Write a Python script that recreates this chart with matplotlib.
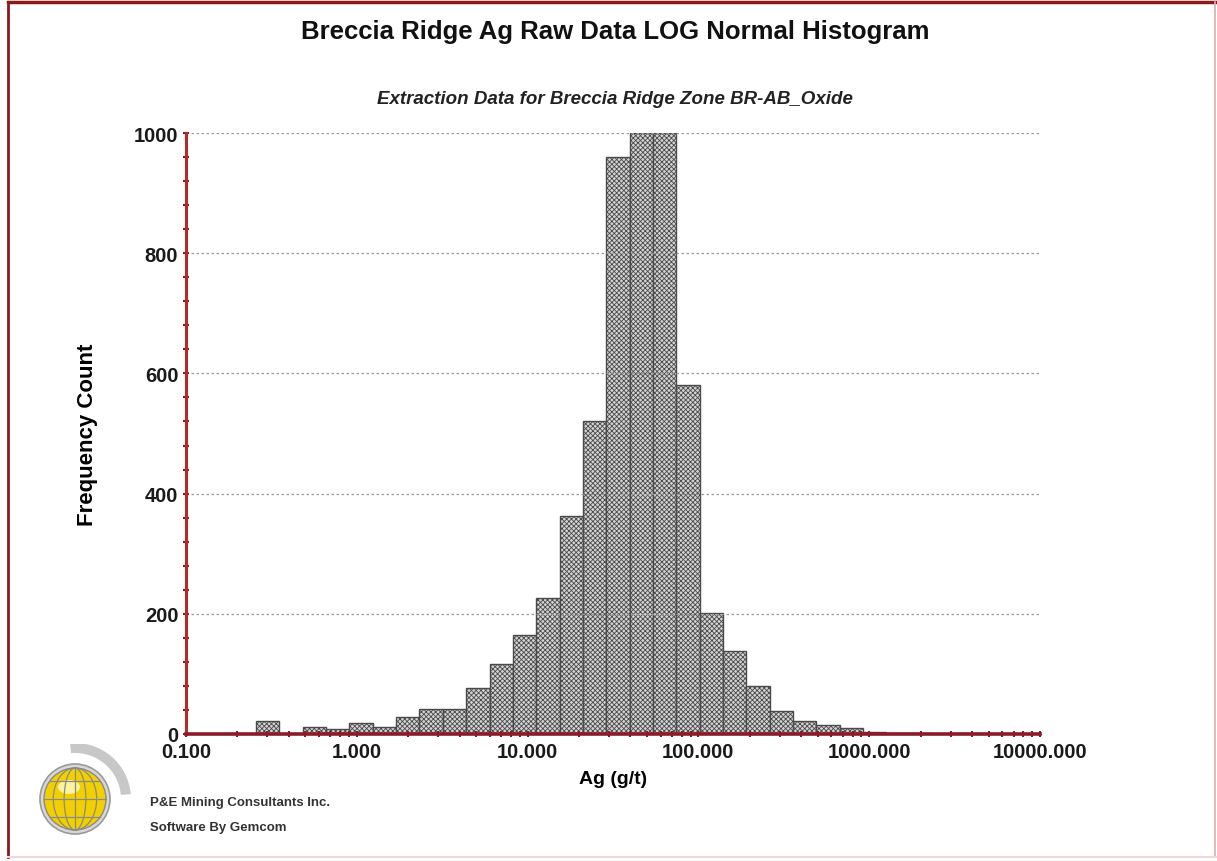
import numpy as np
import matplotlib
matplotlib.use("Agg")
import matplotlib.pyplot as plt
from matplotlib.patches import Circle, Wedge, Ellipse
from matplotlib.ticker import FixedLocator, NullFormatter, FuncFormatter

plt.rcParams['font.family'] = ['Liberation Sans', 'DejaVu Sans']
plt.rcParams['hatch.linewidth'] = 0.6

# ---- data ----
title = "Breccia Ridge Ag Raw Data LOG Normal Histogram"
subtitle = "Extraction Data for Breccia Ridge Zone BR-AB_Oxide"
x_label = "Ag (g/t)"
y_label = "Frequency Count"
log_start = -1.0          # first bin edge = 0.1 g/t
log_bin_width = 0.1367    # bin width in log10 units
counts = [0, 0, 0, 22, 0, 12, 8, 18, 11, 28, 42, 42, 77, 116, 164, 226, 363,
          521, 960, 1000, 1000, 581, 201, 138, 80, 39, 22, 15, 10, 3, 2, 1, 0, 2, 0]
x_ticks = [0.1, 1, 10, 100, 1000, 10000]
y_ticks = [0, 200, 400, 600, 800, 1000]
company = "P&E Mining Consultants Inc."
software = "Software By Gemcom"

W, H = 1217, 862
fig = plt.figure(figsize=(W / 100, H / 100), dpi=100)
fig.patch.set_facecolor('white')

# figure frame
fig.add_artist(plt.Line2D([8 / W, 1], [1 - 3 / H, 1 - 3 / H], color='#8b1a1a', lw=2.5, transform=fig.transFigure))
fig.add_artist(plt.Line2D([8 / W, 8 / W], [1 - 3 / H, 0.005], color='#8b1a1a', lw=2.0, transform=fig.transFigure))
fig.add_artist(plt.Line2D([1 - 2 / W, 1 - 2 / W], [1 - 3 / H, 0.005], color='#d8b0b0', lw=1.2, transform=fig.transFigure))
fig.add_artist(plt.Line2D([8 / W, 1], [4 / H, 4 / H], color='#f0d8d8', lw=1.5, transform=fig.transFigure))

ax = fig.add_axes([186 / W, 1 - 735 / H, (1040 - 186) / W, (735 - 134) / H])

edges = 10 ** (log_start + log_bin_width * np.arange(len(counts) + 1))
lefts = edges[:-1]
widths = np.diff(edges)
mask = np.array(counts) > 0
ax.bar(lefts[mask], np.array(counts)[mask], width=widths[mask], align='edge',
       facecolor='#d4d4d4', edgecolor='#4a4a4a', hatch='xxxxxxx', linewidth=1.0, zorder=2)

ax.set_xscale('log')
ax.set_xlim(0.1, 10000)
ax.set_ylim(0, 1000)

ax.xaxis.set_major_locator(FixedLocator(x_ticks))
ax.xaxis.set_major_formatter(FuncFormatter(lambda v, p: f"{v:.3f}"))
minor = [m * 10.0 ** e for e in range(-1, 4) for m in range(2, 10)]
ax.xaxis.set_minor_locator(FixedLocator(minor))
ax.xaxis.set_minor_formatter(NullFormatter())
ax.yaxis.set_major_locator(FixedLocator(y_ticks))
ax.yaxis.set_minor_locator(FixedLocator(list(range(40, 1000, 40))))

ax.grid(axis='y', which='major', linestyle=(0, (2, 2)), color='#9a9a9a', linewidth=0.9, zorder=3)
ax.set_axisbelow(False)

for s in ['top', 'right']:
    ax.spines[s].set_visible(False)
ax.spines['left'].set_color('#b52a2a')
ax.spines['left'].set_linewidth(2.2)
ax.spines['bottom'].set_color('#8b1a2a')
ax.spines['bottom'].set_linewidth(2.6)
ax.spines['left'].set_zorder(5)
ax.spines['bottom'].set_zorder(5)

ax.tick_params(axis='both', which='major', labelsize=14.5, direction='inout', length=5,
               width=1.5, color='#8b1a1a')
ax.tick_params(axis='both', which='minor', direction='inout', length=4, width=1.5, color='#8b1a1a')
ax.tick_params(axis='x', which='major', pad=3)
ax.tick_params(axis='y', which='major', pad=3)
for lab in ax.get_xticklabels() + ax.get_yticklabels():
    lab.set_fontweight('bold')
    lab.set_color('#1a1a1a')

ax.set_xlabel(x_label, fontsize=14, fontweight='bold', labelpad=7)
ax.set_ylabel(y_label, fontsize=16, fontweight='bold', labelpad=26)

fig.text(615 / W, 1 - 32 / H, title, ha='center', va='center', fontsize=18.5, fontweight='bold', color='#111111')
fig.text(615 / W, 1 - 100 / H, subtitle, ha='center', va='center', fontsize=13.5, fontweight='bold',
         fontstyle='italic', color='#222222')

fig.text(150 / W, 1 - 803 / H, company, ha='left', va='center', fontsize=9.5, fontweight='bold', color='#333333')
fig.text(150 / W, 1 - 828 / H, software, ha='left', va='center', fontsize=9.5, fontweight='bold', color='#333333')

# logo
lax = fig.add_axes([30 / W, 1 - 855 / H, 110 / W, 110 / H])
lax.set_xlim(0, 110)
lax.set_ylim(0, 110)
lax.set_aspect('equal')
lax.axis('off')
cx, cy, r = 45, 55, 33
lax.add_patch(Wedge((cx, cy), 56, 5, 95, width=10, facecolor='#c8c8c8', edgecolor='none'))
lax.add_patch(Circle((cx, cy), r + 2, facecolor='#d8d8d8', edgecolor='#9a9a9a', lw=1.2))
lax.add_patch(Circle((cx, cy), r - 2, facecolor='#f2d000', edgecolor='#8a8a8a', lw=1.0))
lax.add_patch(Ellipse((cx - 6, cy + 12), 22, 14, facecolor='#fff6b0', edgecolor='none', alpha=0.9))
for w in [0.35, 0.7]:
    lax.add_patch(Ellipse((cx, cy), 2 * (r - 2) * w, 2 * (r - 2), facecolor='none', edgecolor='#8a8a8a', lw=0.9))
lax.plot([cx, cx], [cy - r + 2, cy + r - 2], color='#8a8a8a', lw=0.9)
for dy in [-18, 0, 18]:
    hw = np.sqrt(max((r - 2) ** 2 - dy ** 2, 0))
    lax.plot([cx - hw, cx + hw], [cy + dy, cy + dy], color='#8a8a8a', lw=0.9)

fig.savefig('out.png', dpi=100, facecolor='white')
